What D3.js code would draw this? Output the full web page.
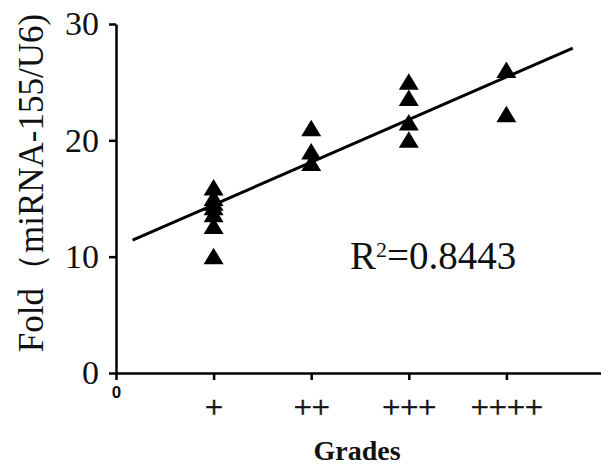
<!DOCTYPE html>
<html>
<head>
<meta charset="utf-8">
<script src="https://cdn.jsdelivr.net/npm/d3@7/dist/d3.min.js"></script>
<style>
  body { margin: 0; background: #fff; }
  svg { display: block; }
</style>
</head>
<body>
<svg id="chart"></svg>
<script>
// grades on the x axis (0 = origin)
const gradeLabels = ["0", "+", "++", "+++", "++++"];
const gradeValues = [0, 1, 2, 3, 4];
const yTicks = [0, 10, 20, 30];

// fold values
const grade1 = [15.9, 15.0, 14.6, 14.2, 13.6, 12.6, 10.0];
const grade2 = [21.0, 19.0, 18.0];
const grade3 = [25.0, 23.6, 21.5, 20.0];
const grade4 = [26.0, 22.2];

// regression line
const fitSlope = 3.66;
const fitIntercept = 10.8;
const fitRange = [0.17, 4.68];
const r2Text = "0.8443";

const width = 601, height = 466;
const serif = "'Times New Roman', 'Liberation Serif', serif";
const sans = "Arial, 'Liberation Sans', sans-serif";

const svg = d3.select("#chart")
    .attr("width", width)
    .attr("height", height);

const x = d3.scaleLinear().domain([0, 5]).range([116, 604]);
const y = d3.scaleLinear().domain([0, 30]).range([373, 24]);

const points = [];
[grade1, grade2, grade3, grade4].forEach((vals, i) => {
    vals.forEach(v => points.push({ g: i + 1, v: v }));
});

// y axis
const yAxis = svg.append("g")
    .attr("transform", `translate(${x(0)},0)`)
    .call(d3.axisLeft(y).tickValues(yTicks).tickSize(7).tickSizeOuter(0).tickPadding(10));
yAxis.select(".domain").attr("stroke-width", 2.5);
yAxis.selectAll(".tick line").attr("stroke-width", 2.5);
yAxis.selectAll("text")
    .style("font-family", serif)
    .style("font-size", "34px")
    .attr("fill", "#111");

// x axis
const xAxis = svg.append("g")
    .attr("transform", `translate(0,${y(0)})`)
    .call(d3.axisBottom(x).tickValues(gradeValues).tickSize(7).tickSizeOuter(0)
        .tickFormat((d, i) => gradeLabels[i]));
xAxis.select(".domain").attr("stroke-width", 2.5);
xAxis.selectAll(".tick line").attr("stroke-width", 2.5);
xAxis.selectAll("text")
    .attr("fill", "#111")
    .attr("dy", "0.71em")
    .attr("y", d => d === 0 ? 13 : 22)
    .attr("stroke", d => d === 0 ? "none" : "#111")
    .attr("stroke-width", 0.6)
    .style("font-family", d => d === 0 ? sans : serif)
    .style("font-size", d => d === 0 ? "17px" : "32px")
    .style("font-weight", d => d === 0 ? "bold" : "normal");

// fit line
svg.append("line")
    .attr("x1", x(fitRange[0]))
    .attr("y1", y(fitIntercept + fitSlope * fitRange[0]))
    .attr("x2", x(fitRange[1]))
    .attr("y2", y(fitIntercept + fitSlope * fitRange[1]))
    .attr("stroke", "#000")
    .attr("stroke-width", 3);

// triangles
const tri = "M0,-9L10,7.5L-10,7.5Z";
svg.selectAll(".pt")
    .data(points)
    .enter().append("path")
    .attr("class", "pt")
    .attr("d", tri)
    .attr("transform", d => `translate(${x(d.g)},${y(d.v)})`)
    .attr("fill", "#000");

// R² label
const r2 = svg.append("text")
    .attr("x", 350)
    .attr("y", 269)
    .style("font-family", serif)
    .style("font-size", "39px")
    .attr("fill", "#111");
r2.append("tspan").text("R");
r2.append("tspan").text("2").style("font-size", "22px").attr("dy", -12);
r2.append("tspan").text("=" + r2Text).attr("dy", 12);

// axis titles
svg.append("text")
    .attr("transform", `translate(43,183) rotate(-90)`)
    .attr("text-anchor", "middle")
    .style("font-family", serif)
    .style("font-size", "35px")
    .attr("fill", "#111")
    .text("Fold（miRNA-155/U6)");

svg.append("text")
    .attr("x", 357)
    .attr("y", 460)
    .attr("text-anchor", "middle")
    .style("font-family", serif)
    .style("font-size", "28px")
    .style("font-weight", "bold")
    .attr("fill", "#111")
    .text("Grades");
</script>
</body>
</html>
